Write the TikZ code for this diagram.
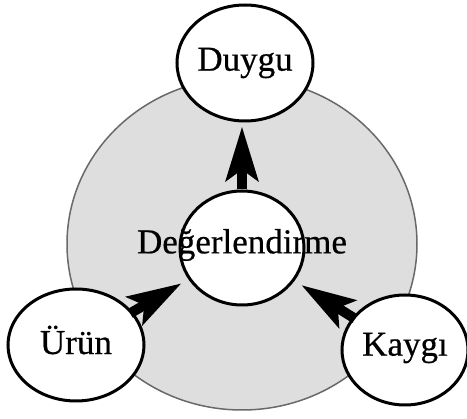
\documentclass[tikz,border=0pt]{standalone}
\usepackage{fontspec}
\setmainfont{Liberation Serif}
\newfontfamily\wordfont{Liberation Serif}[FakeBold=0.5]
\usetikzlibrary{arrows.meta,shapes.geometric}
\definecolor{discfill}{RGB}{222,222,222}
\definecolor{discline}{RGB}{105,105,105}
\begin{document}
\begin{tikzpicture}[x=1pt,y=-1pt,
  bubble/.style={ellipse, draw=black, line width=3pt, fill=white, inner sep=0pt},
  word/.style={inner sep=0pt, font=\wordfont\fontsize{35}{40}\selectfont},
  flow/.style={line width=10pt, -{Stealth[length=54pt,width=32pt,inset=11pt]}}]
  \useasboundingbox (0,0) rectangle (467,419);
  \fill[white] (0,0) rectangle (467,419);
  % shaded background disc
  \draw[fill=discfill, draw=discline, line width=1.5pt] (242,244) ellipse [x radius=175, y radius=166];
  % bubbles
  \node[bubble, minimum width=136pt, minimum height=116pt] (Y) at (245,63) {};
  \node[bubble, minimum width=124pt, minimum height=114pt] (D) at (242,248) {};
  \node[bubble, minimum width=136pt, minimum height=112pt] (U) at (76,345) {};
  \node[bubble, minimum width=126pt, minimum height=110pt] (K) at (405,350) {};
  % labels
  \node[word] (tY) at (Y) {Duygu};
  \node[word] (tD) at ([yshift=3pt]D.center) {Değerlendirme};
  \node[word] (tU) at ([yshift=5pt]U.center) {Ürün};
  \node[word] (tK) at ([yshift=2pt]K.center) {Kaygı};
  % arrows
  \draw[flow, shorten >=4pt] (D.north) -- (D.north |- Y.south);
  \draw[flow, shorten >=8pt, shorten <=-3pt] (U) -- (D);
  \draw[flow, shorten >=8pt, shorten <=-3pt] (K) -- (D);
\end{tikzpicture}
\end{document}
